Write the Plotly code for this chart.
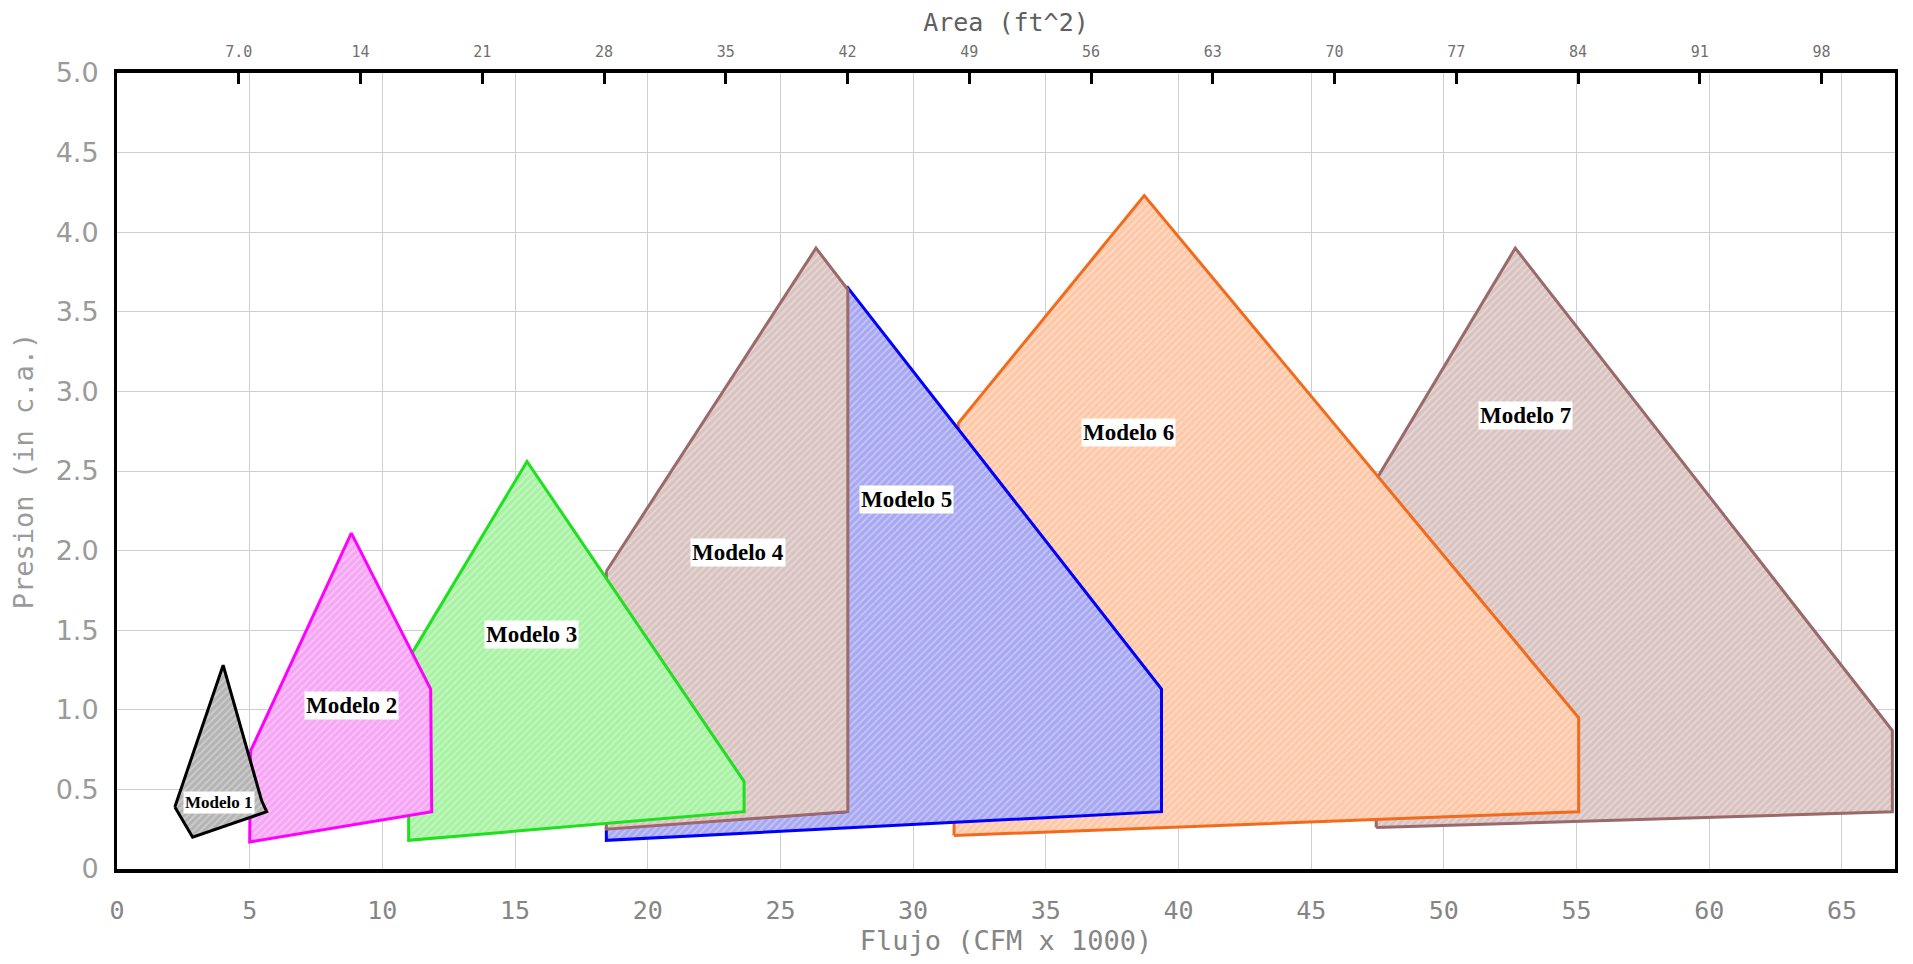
import plotly.graph_objects as go

# polygon outlines of each model, flow (CFM x 1000) vs pressure (in c.a.)
modelo1_x = [2.18, 2.85, 5.64, 5.45, 4.0, 2.18]
modelo1_y = [0.39, 0.20, 0.36, 0.43, 1.28, 0.39]

modelo2_x = [5.03, 8.83, 11.82, 11.86, 5.0, 5.03]
modelo2_y = [0.74, 2.11, 1.13, 0.36, 0.17, 0.74]

modelo3_x = [10.99, 15.45, 23.63, 23.63, 10.99, 10.99]
modelo3_y = [1.32, 2.56, 0.55, 0.36, 0.18, 1.32]

modelo4_x = [18.44, 26.34, 27.54, 27.54, 18.44, 18.44]
modelo4_y = [1.87, 3.90, 3.64, 0.36, 0.25, 1.87]

modelo5_x = [27.5, 39.36, 39.36, 18.44, 18.44, 27.5, 27.5]
modelo5_y = [3.66, 1.13, 0.36, 0.18, 0.26, 0.36, 3.66]

modelo6_x = [31.54, 31.7, 38.71, 55.08, 55.08, 31.54]
modelo6_y = [0.21, 2.80, 4.23, 0.95, 0.36, 0.21]

modelo7_x = [47.45, 47.54, 52.69, 66.9, 66.9, 47.45]
modelo7_y = [0.26, 2.47, 3.90, 0.87, 0.36, 0.26]

nombres = ["Modelo 1", "Modelo 2", "Modelo 3", "Modelo 4", "Modelo 5", "Modelo 6", "Modelo 7"]
etiqueta_x = [3.86, 8.83, 15.63, 23.4, 29.75, 38.1, 53.06]
etiqueta_y = [0.42, 1.03, 1.47, 1.99, 2.32, 2.74, 2.85]

flujo_ticks = [0, 5, 10, 15, 20, 25, 30, 35, 40, 45, 50, 55, 60, 65]
presion_ticks = [0, 0.5, 1.0, 1.5, 2.0, 2.5, 3.0, 3.5, 4.0, 4.5, 5.0]
presion_text = ["0", "0.5", "1.0", "1.5", "2.0", "2.5", "3.0", "3.5", "4.0", "4.5", "5.0"]
area_ticks = [7, 14, 21, 28, 35, 42, 49, 56, 63, 70, 77, 84, 91, 98]
area_text = ["7.0", "14", "21", "28", "35", "42", "49", "56", "63", "70", "77", "84", "91", "98"]
area_por_flujo = 1.5257

# line colour, fill colour, hatch colour
estilos = {
   "Modelo 1": ("#000000", "#b4b4b4", "#e6e6e6"),
   "Modelo 2": ("#ff00ff", "#f6a6f4", "#fde0fc"),
   "Modelo 3": ("#1ee01e", "#a8f2a4", "#e0fbdc"),
   "Modelo 4": ("#9a6a6a", "#d9c3c1", "#f3ebea"),
   "Modelo 5": ("#0000ff", "#a8a8f2", "#e2e2fb"),
   "Modelo 6": ("#f26b1d", "#ffc7a6", "#fff0e6"),
   "Modelo 7": ("#9a6a6a", "#d9c3c1", "#f3ebea"),
}

poligonos = {
   "Modelo 1": (modelo1_x, modelo1_y),
   "Modelo 2": (modelo2_x, modelo2_y),
   "Modelo 3": (modelo3_x, modelo3_y),
   "Modelo 4": (modelo4_x, modelo4_y),
   "Modelo 5": (modelo5_x, modelo5_y),
   "Modelo 6": (modelo6_x, modelo6_y),
   "Modelo 7": (modelo7_x, modelo7_y),
}

fig = go.Figure()

# draw from model 7 down to model 1 so smaller ones sit on top
for nombre in reversed(nombres):
   xs, ys = poligonos[nombre]
   linea, relleno, trama = estilos[nombre]
   fig.add_trace(go.Scatter(x=xs, y=ys, mode="lines", fill="toself",
                            fillcolor=relleno,
                            fillpattern=dict(shape="/", bgcolor=relleno, fgcolor=trama,
                                             size=5, solidity=0.35),
                            line=dict(color=linea, width=3),
                            hoverinfo="skip", showlegend=False))

# dummy trace so the top axis shows up
fig.add_trace(go.Scatter(x=[0, 67 * area_por_flujo], y=[0, 0], xaxis="x2",
                         mode="lines", line=dict(width=0), hoverinfo="skip", showlegend=False))

for i, nombre in enumerate(nombres):
   fig.add_annotation(x=etiqueta_x[i], y=etiqueta_y[i], text="<b>" + nombre + "</b>",
                      showarrow=False, bgcolor="white", borderpad=1,
                      font=dict(family="Liberation Serif", size=17 if i == 0 else 23, color="black"))

# page has an 8px body margin, so figure is a bit smaller than the window
fig.update_layout(
   width=1897, height=948,
   margin=dict(l=109, r=10, t=65, b=87),
   paper_bgcolor="white", plot_bgcolor="white",
   showlegend=False,
   xaxis=dict(range=[0, 67], tickvals=flujo_ticks, showgrid=True, gridcolor="#cfcfcf", gridwidth=1,
              zeroline=False, showline=True, linecolor="black", linewidth=4, ticks="",
              automargin=False, ticklabelstandoff=16,
              tickfont=dict(family="DejaVu Sans Mono", size=25, color="#858585"),
              title=dict(text="Flujo (CFM x 1000)", standoff=12,
                         font=dict(family="DejaVu Sans Mono", size=27, color="#858585"))),
   xaxis2=dict(range=[0, 67 * area_por_flujo], overlaying="x", side="top", tickvals=area_ticks,
               ticktext=area_text, showgrid=False, zeroline=False, showline=True, linecolor="black",
               linewidth=4, ticks="inside", ticklen=11, tickwidth=3, tickcolor="black",
               automargin=False, ticklabelstandoff=6,
               tickfont=dict(family="DejaVu Sans Mono", size=15, color="#707070"),
               title=dict(text="Area (ft^2)", standoff=6,
                          font=dict(family="DejaVu Sans Mono", size=25, color="#606060"))),
   yaxis=dict(range=[0, 5], tickvals=presion_ticks, ticktext=presion_text, showgrid=True,
              gridcolor="#cfcfcf", gridwidth=1, zeroline=False, showline=True, linecolor="black",
              linewidth=3, mirror=True, ticks="", automargin=False, ticklabelstandoff=10,
              tickfont=dict(family="DejaVu Sans", size=27, color="#9a9a9a"),
              title=dict(text="Presion (in c.a.)", standoff=18,
                         font=dict(family="DejaVu Sans Mono", size=27, color="#9a9a9a"))),
)

fig.write_html("out.html")
